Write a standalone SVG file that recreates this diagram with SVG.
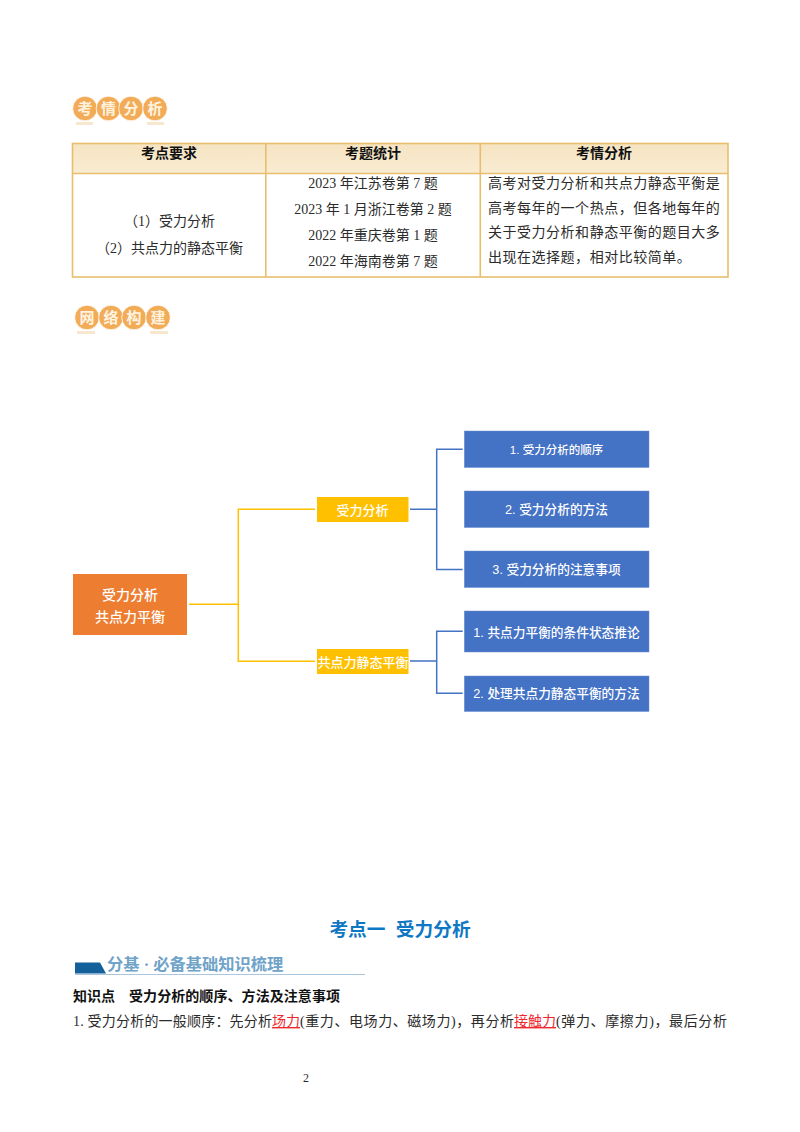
<svg xmlns="http://www.w3.org/2000/svg" width="800" height="1132" viewBox="0 0 800 1132">
<style>
text{font-family:"Liberation Serif","Noto Sans CJK SC",sans-serif;font-size:14px;fill:#2b2b2b}
.h{font-weight:700;fill:#111;text-anchor:middle}
.m{text-anchor:middle}
.e{text-anchor:end}
.j{letter-spacing:.52px}
.w{font-family:"Liberation Sans","Noto Sans CJK SC",sans-serif;font-weight:500;fill:#fff;text-anchor:middle}
.s{font-size:12.700px}
.bt{font-family:"Noto Sans CJK SC",sans-serif;font-weight:700;fill:#FFF3E0;text-anchor:middle;font-size:15px}
.tl{fill:none;stroke:#E8BE6C;stroke-width:1.6}
.y{fill:none;stroke:#FFC000;stroke-width:1.5}
.b{fill:none;stroke:#4472C4;stroke-width:1.5}
.nb{fill:#4472C4;stroke:#6f8fd0;stroke-width:.5}
.ny{fill:#FFC000}
.c{fill:#F2AC58;stroke:#fff;stroke-width:.8}
.u{fill:#F8E7CF}
.r{fill:#F0282D}
</style>
<defs>
<linearGradient id="hd" x1="0" y1="0" x2="0" y2="1"><stop offset="0" stop-color="#F6E4C2"/><stop offset="1" stop-color="#F9ECD2"/></linearGradient>
</defs>
<rect width="800" height="1132" fill="#fff"/>

<g id="badge-kaoqing">
<rect class="u" x="76" y="122" width="17" height="3"/><rect class="u" x="147" y="122" width="17" height="3"/>
<circle class="c" cx="85" cy="108.500" r="12.300"/><circle class="c" cx="108.500" cy="108.500" r="12.300"/><circle class="c" cx="131" cy="108.500" r="12.300"/><circle class="c" cx="155" cy="108.500" r="12.300"/>
<text class="bt" x="85" y="114">考</text><text class="bt" x="108.500" y="114">情</text><text class="bt" x="131" y="114">分</text><text class="bt" x="155" y="114">析</text>
</g>

<g id="table">
<rect x="72" y="143" width="656" height="30" fill="url(#hd)"/>
<rect class="tl" x="72.500" y="143.500" width="655.500" height="133.500"/>
<path class="tl" d="M72 173.500H728M265.800 143V277M480.300 143V277"/>
<text class="h" x="169" y="158">考点要求</text>
<text class="h" x="373" y="158">考题统计</text>
<text class="h" x="604" y="158">考情分析</text>
<text class="e" x="215" y="226">（1）受力分析</text>
<text class="e" x="243" y="253">（2）共点力的静态平衡</text>
<text class="m" x="373" y="188">2023 年江苏卷第 7 题</text>
<text class="m" x="373" y="214">2023 年 1 月浙江卷第 2 题</text>
<text class="m" x="373" y="240">2022 年重庆卷第 1 题</text>
<text class="m" x="373" y="266">2022 年海南卷第 7 题</text>
<text class="j" x="488" y="188">高考对受力分析和共点力静态平衡是</text>
<text class="j" x="488" y="213">高考每年的一个热点，但各地每年的</text>
<text class="j" x="488" y="237">关于受力分析和静态平衡的题目大多</text>
<text class="j" x="488" y="262">出现在选择题，相对比较简单。</text>
</g>

<g id="badge-wangluo">
<rect class="u" x="77" y="331" width="18" height="3"/><rect class="u" x="150" y="331" width="18" height="3"/>
<circle class="c" cx="87" cy="317.500" r="12.300"/><circle class="c" cx="111" cy="317.500" r="12.300"/><circle class="c" cx="134" cy="317.500" r="12.300"/><circle class="c" cx="158" cy="317.500" r="12.300"/>
<text class="bt" x="87" y="323">网</text><text class="bt" x="111" y="323">络</text><text class="bt" x="134" y="323">构</text><text class="bt" x="158" y="323">建</text>
</g>

<g id="connectors">
<path class="y" d="M189 604.300H238.300M315 509.300H238.300V661.300H315"/>
<path class="b" d="M410 509.300H436.700M462.700 449.300H436.700V569.500H462.700"/>
<path class="b" d="M410 661H436.700M462.700 631.300H436.700V693.300H462.700"/>
</g>

<g id="node-root"><rect x="73" y="574" width="114" height="61" fill="#ED7D31"/>
<text class="w" x="130" y="600">受力分析</text><text class="w" x="130" y="622">共点力平衡</text></g>
<g id="node-force"><rect class="ny" x="317" y="497" width="91.500" height="25"/><text class="w" x="362.500" y="515" style="font-size:13px">受力分析</text></g>
<g id="node-balance"><rect class="ny" x="317" y="649" width="91.500" height="25"/><text class="w" x="363" y="667" style="font-size:13px">共点力静态平衡</text></g>
<g id="node-a1"><rect class="nb" x="464.300" y="431" width="184.700" height="36.500"/><text class="w" x="556.500" y="454" style="font-size:11.500px">1. 受力分析的顺序</text></g>
<g id="node-a2"><rect class="nb" x="464.300" y="491" width="184.700" height="36.500"/><text class="w s" x="556.500" y="514">2. 受力分析的方法</text></g>
<g id="node-a3"><rect class="nb" x="464.300" y="551" width="184.700" height="36.500"/><text class="w s" x="556.500" y="574">3. 受力分析的注意事项</text></g>
<g id="node-b1"><rect class="nb" x="464.300" y="611" width="184.700" height="41"/><text class="w s" x="556.500" y="637">1. 共点力平衡的条件状态推论</text></g>
<g id="node-b2"><rect class="nb" x="464.300" y="676" width="184.700" height="35.500"/><text class="w s" x="556.500" y="698">2. 处理共点力静态平衡的方法</text></g>

<g id="section-title"><text x="400" y="936" text-anchor="middle" style="font-family:'Liberation Sans','Noto Sans CJK SC',sans-serif;font-size:18.700px;font-weight:700;fill:#0F78C4" xml:space="preserve">考点一  受力分析</text></g>

<g id="banner">
<path d="M75 962.500H100L106 973.500H75Z" fill="#14609A"/>
<path d="M75 974.500H365" stroke="#A9C6DE" stroke-width="1.200" fill="none"/>
<text x="107" y="970" style="font-size:16.300px;font-weight:700;fill:#6FA3C8">分基 · 必备基础知识梳理</text>
</g>

<g id="body">
<text x="73" y="1001" style="font-weight:700;fill:#111">知识点</text>
<text x="129" y="1001" textLength="211" style="font-weight:700;fill:#111">受力分析的顺序、方法及注意事项</text>
<text x="73" y="1026" textLength="199">1. 受力分析的一般顺序：先分析</text>
<text x="272" y="1026" style="fill:#F0282D" text-decoration="underline">场力</text>
<text x="300" y="1026" textLength="214">(重力、电场力、磁场力)，再分析</text>
<text x="514" y="1026" style="fill:#F0282D" text-decoration="underline">接触力</text>
<text x="556" y="1026" textLength="171">(弹力、摩擦力)，最后分析</text>
<text x="306" y="1082" text-anchor="middle" style="font-size:12px">2</text>
</g>
</svg>
